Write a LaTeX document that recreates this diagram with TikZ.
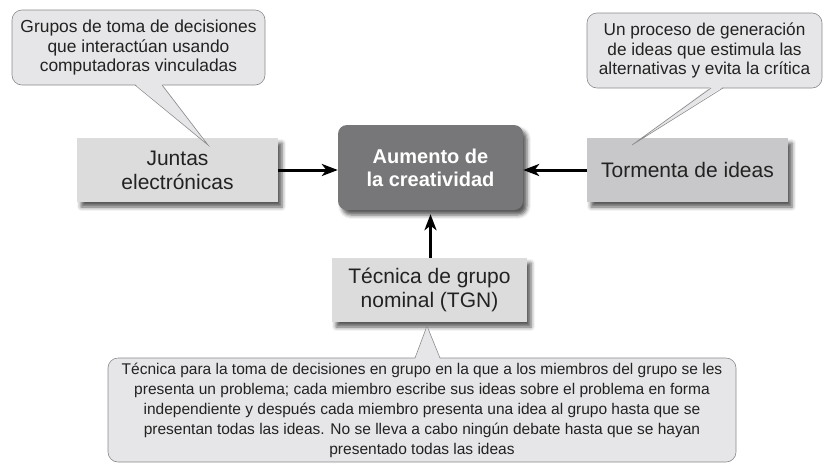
\documentclass[tikz,border=0pt]{standalone}
\usepackage{fontspec}
\setmainfont{Liberation Sans}
\usetikzlibrary{shadows.blur,arrows.meta}
\definecolor{boxlight}{HTML}{DCDCDD}
\definecolor{boxmid}{HTML}{C8C8CA}
\definecolor{boxdark}{HTML}{77777A}
\definecolor{callfill}{HTML}{E6E6E8}
\definecolor{callline}{HTML}{8A8A8C}
\definecolor{txt}{HTML}{222222}
\begin{document}
\begin{tikzpicture}[x=1pt,y=-1pt,
  conceptbox/.style={rectangle, minimum width=201pt, minimum height=64pt, inner sep=0pt,
    text=txt, align=center, font=\fontsize{21}{24}\selectfont,
    blur shadow={shadow xshift=4pt, shadow yshift=-5pt, shadow blur radius=4pt, shadow opacity=65}},
  mainbox/.style={rectangle, rounded corners=9pt, fill=boxdark, minimum width=185pt, minimum height=85pt,
    inner sep=0pt, text=white, align=center, font=\fontsize{20}{23}\selectfont\bfseries,
    blur shadow={shadow xshift=4pt, shadow yshift=-5pt, shadow blur radius=4pt, shadow opacity=65}},
  callout/.style={rectangle, rounded corners=10pt, fill=callfill, draw=callline, line width=0.6pt,
    inner sep=0pt, text=txt, align=center},
  pointerside/.style={draw=callline, line width=0.6pt},
  conn/.style={line width=3pt, -{Stealth[length=16pt,width=12pt,inset=4.5pt]}}
]
\useasboundingbox (0,0) rectangle (827,464);

% concept boxes
\node[conceptbox, fill=boxlight] (juntas) at (177.5,170) {Juntas\\electrónicas};
\node[conceptbox, fill=boxmid] (tormenta) at (687.5,170) {Tormenta de ideas};
\node[conceptbox, fill=boxlight, minimum width=195pt] (tgn) at (429.5,290) {Técnica de grupo\\nominal (TGN)};
\node[mainbox] (centro) at (430.5,167.5) {Aumento de\\la creatividad};

% callouts
\node[callout, minimum width=253pt, minimum height=75pt, font=\fontsize{17.4}{19.5}\selectfont] (c1) at (138.5,47.5)
  {Grupos de toma de decisiones\\que interactúan usando\\computadoras vinculadas};
\node[callout, minimum width=235pt, minimum height=75pt, font=\fontsize{17.2}{19.5}\selectfont] (c2) at (704.5,50.5)
  {Un proceso de generación\\de ideas que estimula las\\alternativas y evita la crítica};
\node[callout, minimum width=628pt, minimum height=104pt, font=\fontsize{15.5}{20}\selectfont] (c3) at (422,410)
  {Técnica para la toma de decisiones en grupo en la que a los miembros del grupo se les\\
   presenta un problema; cada miembro escribe sus ideas sobre el problema en forma\\
   independiente y después cada miembro presenta una idea al grupo hasta que se\\
   presentan todas las ideas. No se lleva a cabo ningún debate hasta que se hayan\\
   presentado todas las ideas};

% callout pointers
\coordinate (t1) at (208,145);
\coordinate (a1) at (135,85);
\coordinate (b1) at (162,85);
\fill[callfill] ([yshift=1.2pt]a1) -- (t1) -- ([yshift=1.2pt]b1) -- cycle;
\draw[pointerside] (a1) -- (t1) -- (b1);

\coordinate (t2) at (632,145);
\coordinate (a2) at (711,88);
\coordinate (b2) at (723,88);
\fill[callfill] ([yshift=1.2pt]a2) -- (t2) -- ([yshift=1.2pt]b2) -- cycle;
\draw[pointerside] (a2) -- (t2) -- (b2);

\coordinate (t3) at (427,326);
\coordinate (a3) at (415,358);
\coordinate (b3) at (440,358);
\fill[callfill] ([yshift=-1.2pt]a3) -- (t3) -- ([yshift=-1.2pt]b3) -- cycle;
\draw[pointerside] (a3) -- (t3) -- (b3);

% connectors
\draw[conn] (juntas.east) -- (centro.west |- juntas.east);
\draw[conn] (tormenta.west) -- (centro.east |- tormenta.west);
\draw[conn] (tgn.north -| centro.south) -- ([yshift=-4pt]centro.south);
\end{tikzpicture}
\end{document}
